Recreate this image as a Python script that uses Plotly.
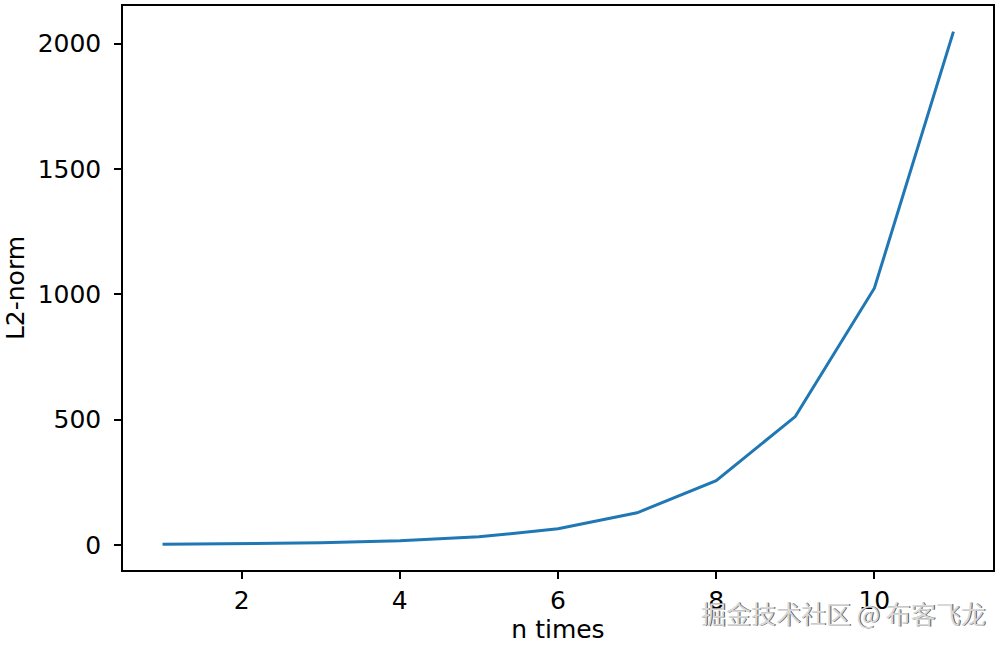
import plotly.graph_objects as go

# n times vs L2-norm (doubles each step)
n_times = [1, 2, 3, 4, 5, 6, 7, 8, 9, 10, 11]
l2_norm = [2, 4, 8, 16, 32, 64, 128, 256, 512, 1024, 2048]

x_ticks = [2, 4, 6, 8, 10]
y_ticks = [0, 500, 1000, 1500, 2000]

fig = go.Figure()
fig.add_trace(go.Scatter(
    x=n_times, y=l2_norm, mode="lines",
    line=dict(color="#1f77b4", width=3),
    showlegend=False,
))

font = dict(family="DejaVu Sans", size=25, color="black")

axis_common = dict(
    showline=True, linecolor="black", linewidth=1.5, mirror=True,
    ticks="outside", ticklen=7, tickwidth=1.5, tickcolor="black",
    showgrid=False, zeroline=False, tickfont=font,
)

fig.update_xaxes(
    range=[0.5, 11.5], tickvals=x_ticks,
    title=dict(text="n times", font=font, standoff=7),
    **axis_common,
)
fig.update_yaxes(
    range=[-100.3, 2150.3], tickvals=y_ticks, ticklabelstandoff=8,
    title=dict(text="L2-norm", font=font, standoff=6),
    **axis_common,
)

# watermark (light text with a grey shadow)
wm = "掘金技术社区 @ 布客飞龙"
fig.add_annotation(
    text=wm, xref="paper", yref="paper",
    x=0.9955, y=-0.077, xanchor="right", yanchor="middle", showarrow=False,
    font=dict(family="Noto Sans CJK SC", size=25, color="#555555"),
)
fig.add_annotation(
    text=wm, xref="paper", yref="paper",
    x=0.994, y=-0.0755, xanchor="right", yanchor="middle", showarrow=False,
    font=dict(family="Noto Sans CJK SC", size=25, color="#d8d8d8"),
)

fig.update_layout(
    width=1000, height=649,
    margin=dict(l=123, r=7, t=4, b=79),
    plot_bgcolor="white", paper_bgcolor="white",
)

fig.write_html("out.html", config={"displayModeBar": False},
               post_script="document.body.style.margin='0';")
